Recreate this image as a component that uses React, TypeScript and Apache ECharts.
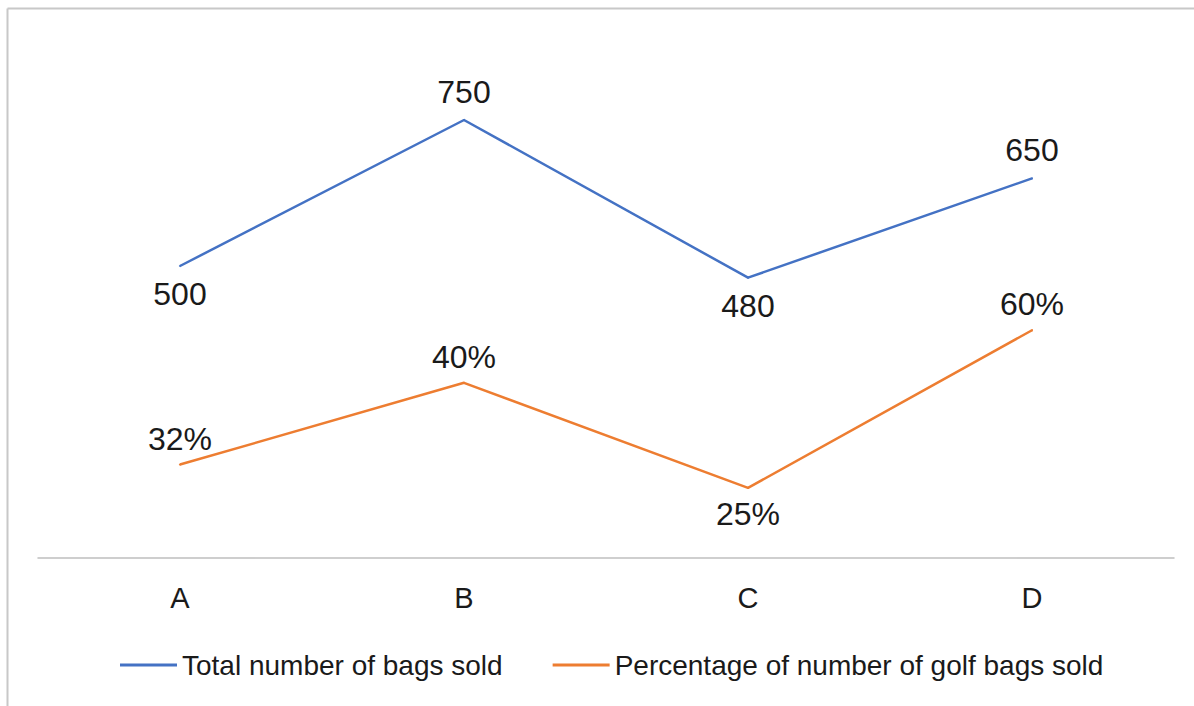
import React, { useEffect, useRef } from "react";
import * as echarts from "echarts";

const categories = ["A", "B", "C", "D"];
const totalBags = [500, 750, 480, 650];
const golfBags = [160, 300, 120, 390];
const golfPctLabels = ["32%", "40%", "25%", "60%"];
const totalLabelPos = ["bottom", "top", "bottom", "top"];
const golfLabelPos = ["top", "top", "bottom", "top"];

export default function App() {
  const ref = useRef<HTMLDivElement>(null);
  useEffect(() => {
    document.body.style.margin = "0";
    const chart = echarts.init(ref.current!, null, { renderer: "svg" });
    const font = "Liberation Sans, Arial, sans-serif";
    chart.setOption({
      animation: false,
      backgroundColor: "#ffffff",
      grid: { left: 38, right: 20, top: 32.4, bottom: 148 },
      xAxis: {
        type: "category",
        data: categories,
        boundaryGap: true,
        axisLine: { lineStyle: { color: "#bfbfbf", width: 1.5 } },
        axisTick: { show: false },
        axisLabel: { color: "#1a1a1a", fontSize: 29, fontFamily: font, margin: 25 },
      },
      yAxis: {
        type: "value",
        min: 0,
        max: 900,
        show: false,
        splitLine: { show: false },
      },
      legend: {
        top: 646,
        left: 115,
        itemWidth: 57,
        itemHeight: 3,
        itemGap: 50,
        icon: "rect",
        textStyle: { color: "#1a1a1a", fontSize: 28, fontFamily: font },
        data: ["Total number of bags sold", "Percentage of number of golf bags sold"],
      },
      graphic: [
        { type: "line", shape: { x1: 7.5, y1: 8.5, x2: 1194, y2: 8.5 }, style: { stroke: "#c8c8c8", lineWidth: 2 } },
        { type: "line", shape: { x1: 7.5, y1: 8.5, x2: 7.5, y2: 706 }, style: { stroke: "#c8c8c8", lineWidth: 2 } },
      ],
      series: [
        {
          name: "Total number of bags sold",
          type: "line",
          data: totalBags.map((v, i) => ({
            value: v,
            label: { position: totalLabelPos[i] },
          })),
          symbol: "circle",
          symbolSize: 2,
          showSymbol: true,
          itemStyle: { color: "#4472C4" },
          lineStyle: { color: "#4472C4", width: 2.5 },
          label: {
            show: true,
            color: "#1a1a1a",
            fontSize: 32,
            fontFamily: font,
            distance: 11,
          },
        },
        {
          name: "Percentage of number of golf bags sold",
          type: "line",
          data: golfBags.map((v, i) => ({
            value: v,
            label: { position: golfLabelPos[i] },
          })),
          symbol: "circle",
          symbolSize: 2,
          showSymbol: true,
          itemStyle: { color: "#ED7D31" },
          lineStyle: { color: "#ED7D31", width: 2.5 },
          label: {
            show: true,
            color: "#1a1a1a",
            fontSize: 32,
            fontFamily: font,
            distance: 9,
            formatter: (p: any) => golfPctLabels[p.dataIndex],
          },
        },
      ],
    });
    return () => chart.dispose();
  }, []);
  return <div ref={ref} style={{ position: "absolute", left: 0, top: 0, width: 1194, height: 706 }} />;
}
